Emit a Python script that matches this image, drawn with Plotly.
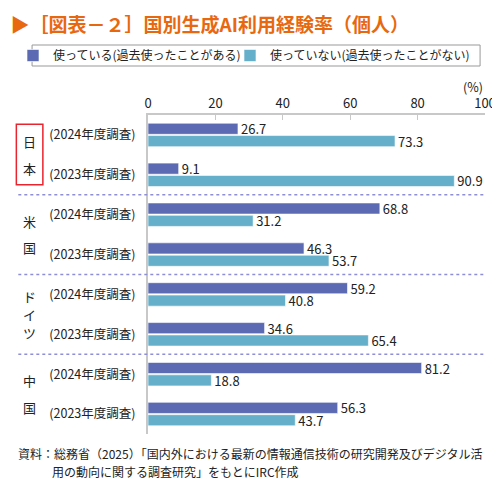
import plotly.graph_objects as go

# データ
countries = ["日本", "米国", "ドイツ", "中国"]
surveys = ["(2024年度調査)", "(2023年度調査)"]
used = [26.7, 9.1, 68.8, 46.3, 59.2, 34.6, 81.2, 56.3]
not_used = [73.3, 90.9, 31.2, 53.7, 40.8, 65.4, 18.8, 43.7]
series_names = ["使っている(過去使ったことがある)", "使っていない(過去使ったことがない)"]
x_ticks = [0, 20, 40, 60, 80, 100]

rows = list(range(len(used)))
row_labels = [s for c in countries for s in surveys]

c_used = "#5b6ab3"
c_not = "#65afca"
txt = "#222222"
font = "Noto Sans CJK JP"

W, H = 500, 479
L, R, T, B = 140, 17, 107, 53
pw, ph = W - L - R, H - T - B


def px_x(p):
    return (p - L) / pw


def px_y(p):
    return (H - B - p) / ph


fig = go.Figure()
for i, (vals, name, col) in enumerate([(used, series_names[0], c_used), (not_used, series_names[1], c_not)]):
    fig.add_trace(go.Bar(
        x=vals, y=rows, orientation="h", name=name,
        legend="legend" if i == 0 else "legend2",
        marker=dict(color=col, line=dict(color="rgba(255,255,255,0.6)", width=1)),
        text=[f"{v:.1f}" for v in vals], textposition="outside", constraintext="none",
        textfont=dict(size=13, color=txt), cliponaxis=False,
    ))

# 国名（縦書き）
for k, c in enumerate(countries):
    center = 2 * k + 0.5
    step = 0.66 if len(c) == 2 else 0.45
    n = len(c)
    for j, ch in enumerate(c):
        fig.add_annotation(x=px_x(19), xref="paper", y=center + (j - (n - 1) / 2) * step, yref="y",
                           text=ch, showarrow=False, font=dict(size=13, color=txt),
                           xanchor="center", yanchor="middle")

# 区切り線
for k in range(1, len(countries)):
    fig.add_shape(type="line", xref="paper", x0=px_x(8), x1=1.0, y0=2 * k - 0.5, y1=2 * k - 0.5,
                  line=dict(color="#8e8fd6", width=1.5, dash="3px,3px"))

# 日本の赤枠
fig.add_shape(type="rect", xref="paper", x0=px_x(6), x1=px_x(33), y0=-0.27, y1=1.25,
              line=dict(color="#e8242e", width=1.5))

# 凡例の枠
fig.add_shape(type="rect", xref="paper", yref="paper", x0=px_x(22), x1=px_x(478),
              y0=px_y(58), y1=px_y(37), line=dict(color="#999999", width=1))

leg_common = dict(orientation="h", xref="container", yref="container", xanchor="left",
                  y=1 - 47.5 / H, yanchor="middle", bgcolor="rgba(0,0,0,0)",
                  font=dict(size=12, color=txt), itemwidth=30)

fig.update_layout(
    width=W, height=H,
    margin=dict(l=L, r=R, t=T, b=B),
    paper_bgcolor="white", plot_bgcolor="white",
    font=dict(family=font, size=12, color=txt),
    barmode="group", bargap=0.38, bargroupgap=0.1,
    title=dict(text="▶［図表－２］国別生成AI利用経験率（個人）", xref="container", x=0.005, y=0.963,
               xanchor="left", yanchor="middle",
               font=dict(family=font, size=19, color="#e8680f", weight="bold")),
    showlegend=True,
    legend=dict(x=5 / W, **leg_common),
    legend2=dict(x=222 / W, **leg_common),
    xaxis=dict(side="top", range=[0, 100], tickvals=x_ticks, showgrid=False, zeroline=False,
               showline=True, linecolor="#c8c8c8", linewidth=2, ticks="inside", ticklen=5,
               tickcolor="#c8c8c8", tickfont=dict(size=13, color=txt)),
    yaxis=dict(range=[7.5, -0.5], tickvals=rows, ticktext=row_labels, showgrid=False,
               zeroline=False, showline=True, linecolor="#c8c8c8", linewidth=2, ticks="",
               ticklabelstandoff=8, tickfont=dict(size=12.5, color=txt)),
)

fig.add_annotation(text="(%)", xref="paper", yref="paper", x=1.0, y=px_y(78), xanchor="right",
                   yanchor="middle", showarrow=False, font=dict(size=12.5, color=txt))
fig.add_annotation(text="資料：総務省（2025）「国内外における最新の情報通信技術の研究開発及びデジタル活",
                   xref="paper", yref="paper", x=px_x(6), y=px_y(446), xanchor="left",
                   yanchor="middle", showarrow=False, font=dict(size=12, color=txt))
fig.add_annotation(text="用の動向に関する調査研究」をもとにIRC作成",
                   xref="paper", yref="paper", x=px_x(40), y=px_y(463), xanchor="left",
                   yanchor="middle", showarrow=False, font=dict(size=12, color=txt))

fig.write_html("out.html")
